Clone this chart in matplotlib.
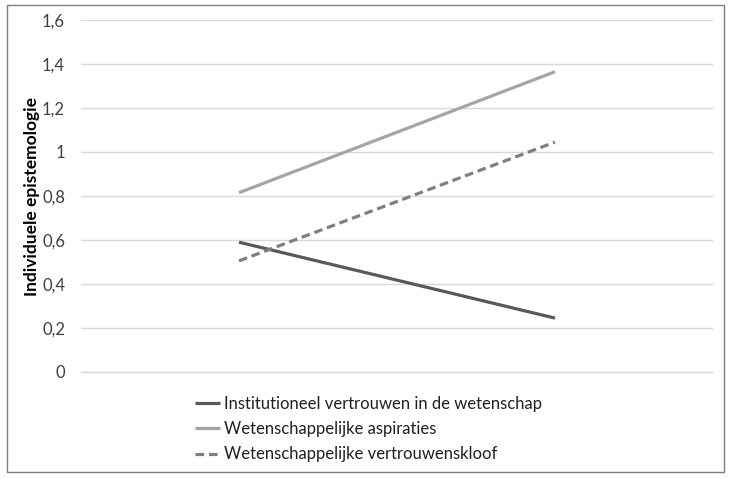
import matplotlib
matplotlib.use("Agg")
import matplotlib.pyplot as plt
from matplotlib.patches import Rectangle
from matplotlib.ticker import FuncFormatter

plt.rcParams['font.family'] = ['Lato', 'DejaVu Sans']

categories = ["Laag", "Hoog"]
series_names = ["Institutioneel vertrouwen in de wetenschap",
                "Wetenschappelijke aspiraties",
                "Wetenschappelijke vertrouwenskloof"]
institutioneel = [0.59, 0.245]
aspiraties = [0.815, 1.365]
kloof = [0.505, 1.045]
y_ticks = [0, 0.2, 0.4, 0.6, 0.8, 1.0, 1.2, 1.4, 1.6]

fig = plt.figure(figsize=(7.31, 4.79), dpi=100)
ax = fig.add_axes([81/731, 1-372/479, 632/731, 352/479])

x = list(range(len(categories)))
ax.plot(x, institutioneel, color='#595959', lw=2.3, solid_capstyle='butt', label=series_names[0])
ax.plot(x, aspiraties, color='#A5A5A5', lw=2.3, solid_capstyle='butt', label=series_names[1])
ax.plot(x, kloof, color='#7F7F7F', lw=2.3, ls=(0, (2.7, 1.5)), dash_capstyle='butt', label=series_names[2])

ax.set_xlim(-0.5, 1.5)
ax.set_ylim(0, 1.6)
ax.set_yticks(y_ticks)
ax.yaxis.set_major_formatter(FuncFormatter(lambda v, p: ('%g' % round(v, 1)).replace('.', ',')))
ax.set_xticks([])
ax.grid(axis='y', color='#D9D9D9', lw=1)
ax.set_axisbelow(True)
for s in ['top', 'right', 'left']:
    ax.spines[s].set_visible(False)
ax.spines['bottom'].set_color('#D9D9D9')
ax.spines['bottom'].set_linewidth(1)
ax.tick_params(axis='y', length=0, pad=11.5, labelsize=12, labelcolor='#404040')
ax.set_ylabel('Individuele epistemologie', fontsize=12.5, fontweight='bold', color='black', labelpad=1.5)

leg = fig.legend(loc='upper left', bbox_to_anchor=(180/731, 1-381/479), frameon=False,
                 fontsize=12, handlelength=1.5, handletextpad=0.25, labelspacing=0.55,
                 labelcolor='#202020')

fig.patches.append(Rectangle((7/731, 1-472/479), 717/731, 467/479, transform=fig.transFigure,
                             fill=False, edgecolor='#7F7F7F', lw=1))

fig.savefig('out.png', dpi=100)
